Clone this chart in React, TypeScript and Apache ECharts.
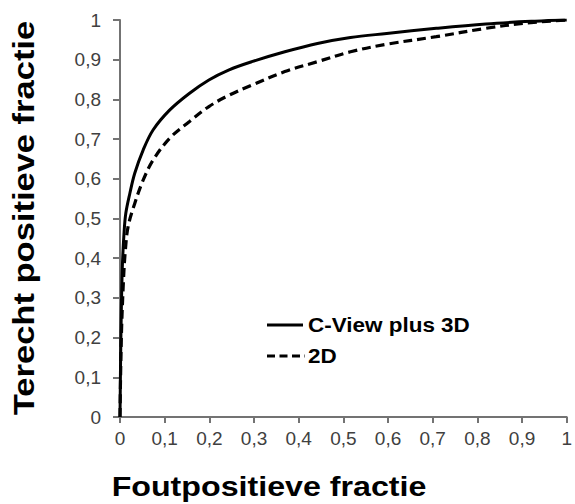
import React, { useEffect, useRef } from "react";
import * as echarts from "echarts";

const xTicks = [0, 0.1, 0.2, 0.3, 0.4, 0.5, 0.6, 0.7, 0.8, 0.9, 1];
const seriesNames = ["C-View plus 3D", "2D"];
const cviewX = [0, 0.002, 0.005, 0.009, 0.013, 0.022, 0.033, 0.052, 0.074, 0.111, 0.155, 0.199, 0.243, 0.295, 0.369, 0.442, 0.516, 0.597, 0.708, 0.819, 0.929, 1];
const cviewY = [0, 0.2, 0.37, 0.463, 0.513, 0.563, 0.614, 0.673, 0.723, 0.773, 0.815, 0.849, 0.874, 0.895, 0.92, 0.941, 0.956, 0.966, 0.979, 0.99, 0.997, 1];
const twoDX = [0, 0.003, 0.008, 0.012, 0.018, 0.033, 0.052, 0.074, 0.111, 0.155, 0.199, 0.243, 0.295, 0.369, 0.442, 0.516, 0.597, 0.708, 0.819, 0.907, 1];
const twoDY = [0, 0.2, 0.35, 0.42, 0.479, 0.538, 0.597, 0.647, 0.702, 0.744, 0.782, 0.81, 0.836, 0.87, 0.895, 0.92, 0.939, 0.958, 0.979, 0.992, 1];
const xTitle = "Foutpositieve fractie";
const yTitle = "Terecht positieve fractie";

export default function App() {
  const ref = useRef<HTMLDivElement>(null);
  useEffect(() => {
    if (!ref.current) return;
    const chart = echarts.init(ref.current, null, { renderer: "svg" });
    const font = "'Liberation Sans', Arial, sans-serif";
    const axisColor = "#737373";
    const axisLine = { show: true, lineStyle: { color: axisColor, width: 2 } };
    const fmt = (v: number) => {
      const t = xTicks.find((x) => Math.abs(x - v) < 1e-6);
      return t === undefined ? "" : String(t).replace(".", ",");
    };
    chart.setOption({
      animation: false,
      backgroundColor: "#fff",
      grid: { left: 120, right: 3, top: 20, bottom: 87, containLabel: false },
      xAxis: {
        type: "value",
        min: 0,
        max: 1,
        interval: 0.1,
        axisLine,
        axisTick: { show: true, inside: false, length: 6, lineStyle: { color: axisColor, width: 2 } },
        splitLine: { show: false },
        axisLabel: { color: "#404040", fontFamily: font, fontSize: 19, margin: 12, formatter: fmt },
      },
      yAxis: {
        type: "value",
        min: 0,
        max: 1,
        interval: 0.1,
        axisLine,
        axisTick: { show: true, inside: false, length: 7, lineStyle: { color: axisColor, width: 2 } },
        splitLine: { show: false },
        axisLabel: { color: "#404040", fontFamily: font, fontSize: 19, margin: 19, formatter: fmt },
      },
      series: [
        {
          name: seriesNames[0],
          type: "line",
          data: cviewX.map((x, i) => [x, cviewY[i]]),
          smooth: 0.35,
          showSymbol: false,
          symbol: "none",
          lineStyle: { color: "#000", width: 3, type: "solid" },
        },
        {
          name: seriesNames[1],
          type: "line",
          data: twoDX.map((x, i) => [x, twoDY[i]]),
          smooth: 0.35,
          showSymbol: false,
          symbol: "none",
          lineStyle: { color: "#000", width: 3.2, type: [9, 5] },
        },
      ],
      graphic: [
        {
          type: "line",
          shape: { x1: 267, y1: 325, x2: 303, y2: 325 },
          style: { stroke: "#000", lineWidth: 3 },
        },
        {
          type: "text",
          x: 308,
          y: 325,
          scaleX: 1.07,
          style: {
            text: seriesNames[0],
            fontFamily: font,
            fontSize: 21,
            fontWeight: "bold",
            fill: "#000",
            align: "left",
            verticalAlign: "middle",
          },
        },
        {
          type: "line",
          shape: { x1: 267, y1: 356, x2: 305, y2: 356 },
          style: { stroke: "#000", lineWidth: 3.2, lineDash: [8, 4.5] },
        },
        {
          type: "text",
          x: 308,
          y: 356,
          scaleX: 1.07,
          style: {
            text: seriesNames[1],
            fontFamily: font,
            fontSize: 21,
            fontWeight: "bold",
            fill: "#000",
            align: "left",
            verticalAlign: "middle",
          },
        },
        {
          type: "text",
          x: 24,
          y: 218,
          rotation: Math.PI / 2,
          scaleX: 1.19,
          style: {
            text: yTitle,
            fontFamily: font,
            fontSize: 29,
            fontWeight: "bold",
            fill: "#000",
            align: "center",
            verticalAlign: "middle",
          },
        },
        {
          type: "text",
          x: 269,
          y: 486,
          scaleX: 1.15,
          style: {
            text: xTitle,
            fontFamily: font,
            fontSize: 28,
            fontWeight: "bold",
            fill: "#000",
            align: "center",
            verticalAlign: "middle",
          },
        },
      ],
    });
    return () => chart.dispose();
  }, []);
  return (
    <div
      ref={ref}
      style={{ position: "fixed", left: 0, top: 0, width: 575, height: 504, background: "#fff" }}
    />
  );
}
